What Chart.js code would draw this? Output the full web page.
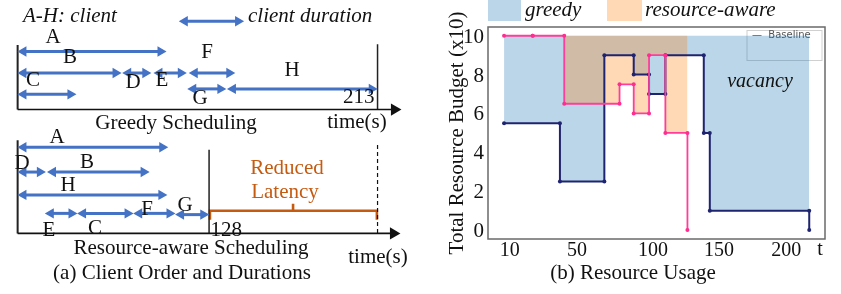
<!DOCTYPE html>
<html>
<head>
<meta charset="utf-8">
<script src="https://cdn.jsdelivr.net/npm/chart.js@4.4.0/dist/chart.umd.min.js"></script>
<style>
  html, body { margin: 0; padding: 0; background: #fff; }
  #wrap { position: relative; width: 841px; height: 294px; overflow: hidden; }
  #orden { position: absolute; left: 0; top: 0; }
  #uso { position: absolute; left: 430px; top: 0; }
</style>
</head>
<body>
<div id="wrap">
  <canvas id="orden" width="420" height="294"></canvas>
  <canvas id="uso" width="411" height="294"></canvas>
</div>
<script>
// ---- (a) client order and durations (seconds, panel scale) ----
const clients = ['A', 'B', 'C', 'D', 'E', 'F', 'G', 'H'];
const greedyStart = [0, 0, 0, 62, 80.5, 101.4, 100.5, 124];
const greedyEnd = [88, 61.4, 34.7, 79, 100, 128.7, 123.4, 213];
const awareStart = [0, 17.5, 35.3, 0, 16.2, 68.5, 93.3, 0];
const awareEnd = [89, 78, 68.5, 16.6, 35.3, 93.3, 113.3, 88.5];
const greedyFinish = 213;
const awareFinishLabel = '128';
const awareMark = 113.3;   // where the 128 line sits in panel (a)

// ---- (b) resource usage (x10) ----
const greedyT = [0, 39, 70, 90.5, 101.2, 112.6, 139.4, 143.6, 213];
const greedyUse = [5.5, 2.5, 9, 8, 7, 9, 5, 1, 0];
const awareT = [0, 20, 42, 80.6, 90.5, 101.2, 112.6, 128];
const awareUse = [10, 10, 6.5, 7.5, 6, 9, 5, 0];
const budget = 10;
const yTicks = [0, 2, 4, 6, 8, 10];
const xTickVals = [4, 51, 104, 150, 197];
const xTickLabels = ['10', '50', '100', '150', '200'];

Chart.defaults.font.family = "'Liberation Serif', 'Times New Roman', serif";
Chart.defaults.color = '#111';

const BLUE = '#4472c4';
const ORANGE = '#c55a11';
const PX_PER_S = 1.748;
const HEAD = 6;

// lanes / label spots of panel (a), in page pixels
const greedyLane = [46.7, 69.3, 91.7, 69.3, 69.3, 69.3, 86, 86];
const awareLane = [147.3, 173.3, 216.7, 173.3, 216.7, 216.7, 218, 197.3];
const greedyLab = [[53, 37], [70, 57], [33, 80], [133, 82], [162, 80], [207, 52], [200, 98], [292, 70]];
const awareLab = [[57, 137], [87, 162], [95, 228], [22, 163], [49, 230], [147, 209], [185, 205], [68, 185]];

function arrow(s, e, y, color, head) {
  const inset = head / PX_PER_S;
  return {
    data: [{x: s + inset, y: y}, {x: e - inset, y: y}],
    showLine: true,
    borderColor: color,
    borderWidth: 3,
    pointStyle: 'triangle',
    pointRadius: head,
    pointRotation: ctx => ctx.dataIndex === 0 ? -90 : 90,
    pointBackgroundColor: color,
    pointBorderWidth: 0,
    clip: false
  };
}

function plain(points, color, width, dash) {
  return {
    data: points,
    showLine: true,
    borderColor: color,
    borderWidth: width,
    borderDash: dash || [],
    pointRadius: 0,
    clip: false
  };
}

function axisArrow(y, tip) {
  const inset = 7 / PX_PER_S;
  return {
    data: [{x: 0, y: y}, {x: tip - inset, y: y}],
    showLine: true,
    borderColor: '#111',
    borderWidth: 1.6,
    pointStyle: 'triangle',
    pointRadius: ctx => ctx.dataIndex === 1 ? 7 : 0,
    pointRotation: 90,
    pointBackgroundColor: '#111',
    pointBorderWidth: 0,
    clip: false
  };
}

const ordenSets = [];
clients.forEach((c, i) => {
  ordenSets.push(arrow(greedyStart[i], greedyEnd[i], greedyLane[i], BLUE, HEAD));
  ordenSets.push(arrow(awareStart[i], awareEnd[i], awareLane[i], BLUE, HEAD));
});
ordenSets.push(arrow(95.5, 133.9, 15, BLUE, HEAD));
ordenSets.push(axisArrow(107.7, 227));
ordenSets.push(axisArrow(237.7, 226.4));
ordenSets.push(plain([{x: 0, y: 40}, {x: 0, y: 107.7}], '#222', 2));
ordenSets.push(plain([{x: greedyFinish, y: 39}, {x: greedyFinish, y: 107.7}], '#222', 1.5));
ordenSets.push(plain([{x: 0, y: 140}, {x: 0, y: 237.7}], '#222', 2));
ordenSets.push(plain([{x: awareMark, y: 150}, {x: awareMark, y: 237.7}], '#222', 1.5));
ordenSets.push(plain([{x: greedyFinish, y: 145}, {x: greedyFinish, y: 237.7}], '#111', 1.2, [4, 3]));
ordenSets.push(plain([
  {x: awareMark + 0.5, y: 223.3}, {x: awareMark + 0.5, y: 214}, {x: 163, y: 214},
  {x: 163, y: 206.7}, {x: 163, y: 214}, {x: 212.6, y: 214}, {x: 212.6, y: 223.3}
], ORANGE, 2.6));

const ordenText = {
  id: 'ordenText',
  afterDraw(chart) {
    const ctx = chart.ctx;
    const sx = chart.scales.x;
    ctx.save();
    ctx.textBaseline = 'middle';
    ctx.fillStyle = '#111';
    ctx.font = "italic 21px 'Liberation Serif'";
    ctx.textAlign = 'left';
    ctx.fillText('A-H: client', 23, 16);
    ctx.fillText('client duration', 248, 16);
    ctx.font = "21px 'Liberation Serif'";
    ctx.textAlign = 'center';
    clients.forEach((c, i) => {
      ctx.fillText(c, greedyLab[i][0], greedyLab[i][1]);
      ctx.fillText(c, awareLab[i][0], awareLab[i][1]);
    });
    ctx.fillText('Greedy Scheduling', 176, 123);
    ctx.fillText('time(s)', 357, 122);
    ctx.fillText('Resource-aware Scheduling', 191, 248);
    ctx.fillText('time(s)', 378, 257);
    ctx.fillText('(a) Client Order and Durations', 182, 273);
    ctx.textAlign = 'right';
    ctx.fillText(String(greedyFinish), sx.getPixelForValue(greedyFinish) - 3, 97);
    ctx.textAlign = 'left';
    ctx.fillText(awareFinishLabel, sx.getPixelForValue(awareMark) + 1.5, 230);
    ctx.fillStyle = ORANGE;
    ctx.textAlign = 'center';
    ctx.fillText('Reduced', 287, 168);
    ctx.fillText('Latency', 285, 192);
    ctx.restore();
  }
};

new Chart(document.getElementById('orden'), {
  type: 'scatter',
  data: { datasets: ordenSets },
  options: {
    responsive: false,
    animation: false,
    events: [],
    plugins: { legend: { display: false }, tooltip: { enabled: false } },
    scales: {
      x: { type: 'linear', display: false, min: -11 / PX_PER_S, max: 409 / PX_PER_S },
      y: { type: 'linear', display: false, min: 0, max: 294, reverse: true }
    }
  },
  plugins: [ordenText]
});

// ---- (b) ----
function steps(ts, vs) {
  const pts = [];
  for (let i = 0; i < ts.length; i++) {
    pts.push({x: ts[i], y: vs[i]});
    if (i < ts.length - 1) pts.push({x: ts[i + 1], y: vs[i]});
  }
  return pts;
}

const usoDeco = {
  id: 'usoDeco',
  beforeDraw(chart) {
    const ctx = chart.ctx;
    ctx.save();
    ctx.strokeStyle = '#d0d0d0';
    ctx.lineWidth = 1;
    ctx.strokeRect(317, 30.5, 75, 30);
    ctx.fillStyle = '#555';
    ctx.font = "10px 'DejaVu Sans'";
    ctx.textBaseline = 'top';
    ctx.fillText('\u2014  Baseline', 322, 30);
    ctx.restore();
  },
  afterDraw(chart) {
    const ctx = chart.ctx;
    const a = chart.chartArea;
    ctx.save();
    ctx.strokeStyle = '#6a6a6a';
    ctx.lineWidth = 1.5;
    ctx.strokeRect(a.left, a.top, a.right - a.left, a.bottom - a.top);
    // legend
    ctx.fillStyle = 'rgba(31,119,180,0.3)';
    ctx.fillRect(58, 0, 33, 21);
    ctx.fillStyle = 'rgba(255,127,14,0.3)';
    ctx.fillRect(177, 0, 35, 21);
    ctx.fillStyle = '#111';
    ctx.textBaseline = 'middle';
    ctx.font = "italic 21px 'Liberation Serif'";
    ctx.fillText('greedy', 95, 10);
    ctx.fillText('resource-aware', 215, 10);
    ctx.font = "italic 20px 'Liberation Serif'";
    ctx.textAlign = 'center';
    ctx.fillText('vacancy', 330, 82);
    ctx.font = "21px 'Liberation Serif'";
    ctx.fillText('(b) Resource Usage', 203, 273);
    ctx.font = "20px 'Liberation Serif'";
    ctx.fillText('t', 390, 250);
    ctx.restore();
  }
};

new Chart(document.getElementById('uso'), {
  type: 'line',
  data: {
    datasets: [{
      label: 'resource-aware',
      data: steps(awareT, awareUse),
      borderColor: '#ff3d9a',
      backgroundColor: 'rgba(255,127,14,0.3)',
      fill: { value: budget },
      borderWidth: 1.8,
      pointRadius: 2,
      pointBackgroundColor: '#ff2d8f',
      pointBorderWidth: 0,
      tension: 0
    }, {
      label: 'greedy',
      data: steps(greedyT, greedyUse),
      borderColor: '#1f2470',
      backgroundColor: 'rgba(31,119,180,0.3)',
      fill: { value: budget },
      borderWidth: 2,
      pointRadius: 2,
      pointBackgroundColor: '#1f2470',
      pointBorderWidth: 0,
      tension: 0
    }]
  },
  options: {
    responsive: false,
    animation: false,
    events: [],
    layout: { padding: { top: 27, right: 16 } },
    plugins: {
      legend: { display: false },
      tooltip: { enabled: false },
      filler: { drawTime: 'beforeDatasetsDraw' }
    },
    scales: {
      x: {
        type: 'linear',
        min: -11.2,
        max: 224,
        grid: { display: false, drawTicks: false },
        border: { display: false },
        afterBuildTicks: s => { s.ticks = xTickVals.map(v => ({ value: v })); },
        ticks: {
          callback: (v, i) => xTickLabels[i],
          font: { size: 20 },
          padding: 0,
          maxRotation: 0,
          autoSkip: false
        },
        afterFit: s => { s.height = 55; }
      },
      y: {
        min: -0.46,
        max: 10.45,
        grid: { display: false, drawTicks: false },
        border: { display: false },
        afterBuildTicks: s => { s.ticks = yTicks.map(v => ({ value: v })); },
        ticks: { font: { size: 21 }, padding: 4, labelOffset: 1.5 },
        title: {
          display: true,
          text: 'Total Resource Budget (x10)',
          font: { size: 21 },
          padding: { top: 15, bottom: 0 }
        },
        afterFit: s => { s.width = 58; }
      }
    }
  },
  plugins: [usoDeco]
});
</script>
</body>
</html>
